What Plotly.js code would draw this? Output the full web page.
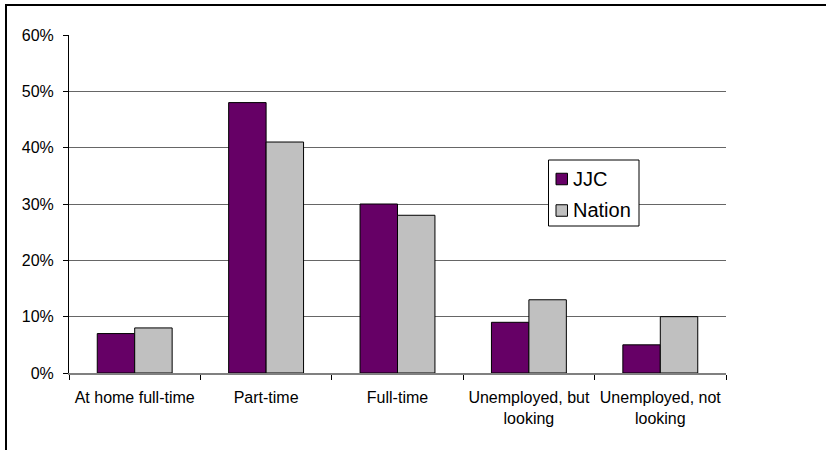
<!DOCTYPE html>
<html>
<head>
<meta charset="utf-8">
<script src="https://cdn.plot.ly/plotly-3.0.1.min.js"></script>
<style>
  html, body { margin: 0; padding: 0; background: #fff; overflow: hidden; }
  #wrap { position: relative; width: 826px; height: 450px; overflow: hidden; }
  #chart { width: 826px; height: 450px; }
  #frame { position: absolute; left: 5px; top: 4px; width: 900px; height: 600px;
           border: 2px solid #000; pointer-events: none; box-sizing: border-box; }
</style>
</head>
<body>
<div id="wrap">
  <div id="chart"></div>
  <div id="frame"></div>
</div>
<script>
const categories = [
  "At home full-time",
  "Part-time",
  "Full-time",
  "Unemployed, but<br>looking",
  "Unemployed, not<br>looking"
];
const seriesNames = ["JJC", "Nation"];
const seriesColors = ["#660066", "#C0C0C0"];
const jjcValues = [7, 48, 30, 9, 5];
const nationValues = [8, 41, 28, 13, 10];
const yTickVals = [0, 10, 20, 30, 40, 50, 60];
const yTickText = ["0%", "10%", "20%", "30%", "40%", "50%", "60%"];

const fontFam = "Liberation Sans, Arial, sans-serif";
const W = 826, H = 450;
const M = { l: 69, r: 100, t: 35, b: 77 };
const plotW = W - M.l - M.r, plotH = H - M.t - M.b;
const px = (x) => (x - M.l) / plotW;          // pixel -> paper x
const py = (y) => (H - M.b - y) / plotH;      // pixel -> paper y

const traces = [jjcValues, nationValues].map((vals, i) => ({
  type: "bar", name: seriesNames[i], x: categories, y: vals,
  marker: { color: seriesColors[i], line: { color: "#000", width: 1 } },
  hoverinfo: "skip", showlegend: false
}));

// legend drawn as a box with swatches and text labels
const shapes = [{
  type: "rect", xref: "paper", yref: "paper",
  x0: px(548.5), x1: px(639), y0: py(160), y1: py(226),
  line: { color: "#000", width: 1 }, fillcolor: "#fff", layer: "above"
}];
const annotations = [];
const rowY = [179, 210.5];
seriesNames.forEach((name, i) => {
  shapes.push({
    type: "rect", xref: "paper", yref: "paper",
    x0: px(556), x1: px(567.5), y0: py(rowY[i] - 5.75), y1: py(rowY[i] + 5.75),
    line: { color: "#000", width: 1 }, fillcolor: seriesColors[i], layer: "above"
  });
  annotations.push({
    xref: "paper", yref: "paper", x: px(571), y: py(rowY[i]),
    xanchor: "left", yanchor: "middle", showarrow: false, text: name,
    font: { family: fontFam, size: 20, color: "#000" }
  });
});

const layout = {
  width: W, height: H,
  margin: { l: M.l, r: M.r, t: M.t, b: M.b, pad: 0 },
  paper_bgcolor: "#fff", plot_bgcolor: "#fff",
  font: { family: fontFam, size: 16, color: "#000" },
  barmode: "group", bargap: 0.43, bargroupgap: 0,
  showlegend: false,
  shapes: shapes,
  annotations: annotations,
  xaxis: {
    type: "category",
    showline: true, linecolor: "#808080", linewidth: 2,
    showgrid: false, zeroline: false,
    ticks: "outside", ticklen: 5, tickcolor: "#000", tickwidth: 1,
    tickson: "boundaries",
    ticklabelstandoff: 9,
    tickfont: { family: fontFam, size: 16, color: "#000" }
  },
  yaxis: {
    range: [0, 60], tickvals: yTickVals, ticktext: yTickText,
    showline: true, linecolor: "#000", linewidth: 1,
    showgrid: true, gridcolor: "#666", gridwidth: 1,
    zeroline: false,
    ticks: "outside", ticklen: 5, tickcolor: "#000",
    ticklabelstandoff: 6,
    tickfont: { family: fontFam, size: 16, color: "#000" }
  }
};

Plotly.newPlot("chart", traces, layout, { displayModeBar: false, staticPlot: true });
</script>
</body>
</html>
